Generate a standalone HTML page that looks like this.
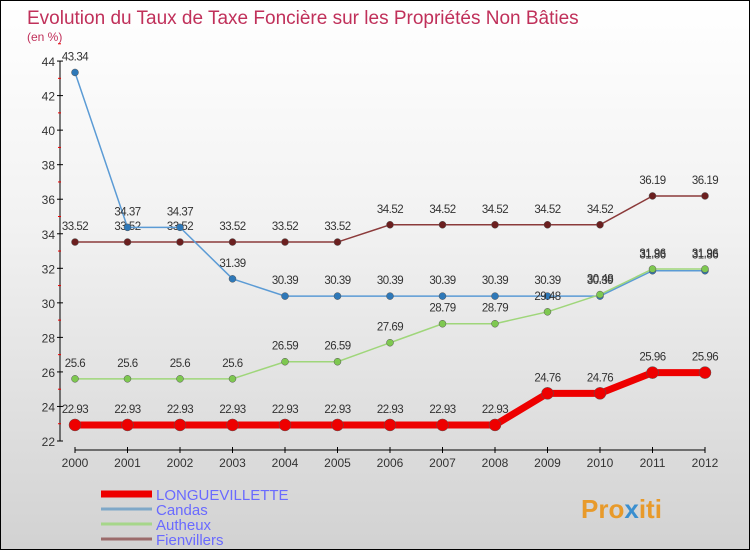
<!DOCTYPE html>
<html><head><meta charset="utf-8"><style>
body{margin:0}
#c{width:748px;height:548px;border:1px solid #000;background:linear-gradient(#fff,#f2f2f2 40%,#d2d2d2);position:relative;font-family:"Liberation Sans",sans-serif;overflow:hidden}
</style></head><body>
<div id="c">
<svg id="s" width="748" height="548" xmlns="http://www.w3.org/2000/svg" style="position:absolute;left:0;top:0">
<text x="26" y="23" font-size="19" fill="#c0305a">Evolution du Taux de Taxe Foncière sur les Propriétés Non Bâties</text>
<text x="26" y="40" font-size="12" fill="#c0305a">(en %)</text>
<g id="g"></g>
<text x="580" y="517" font-size="26" font-weight="bold" fill="#e89a2a">Pro<tspan fill="#3a8fd0">x</tspan>iti</text>
</svg>
</div>
<script>
const years=[2000,2001,2002,2003,2004,2005,2006,2007,2008,2009,2010,2011,2012];
const yTicks=[22,24,26,28,30,32,34,36,38,40,42,44];
const longue=[22.93,22.93,22.93,22.93,22.93,22.93,22.93,22.93,22.93,24.76,24.76,25.96,25.96];
const candas=[43.34,34.37,34.37,31.39,30.39,30.39,30.39,30.39,30.39,30.39,30.39,31.86,31.86];
const autheux=[25.6,25.6,25.6,25.6,26.59,26.59,27.69,28.79,28.79,29.48,30.48,31.96,31.96];
const fienv=[33.52,33.52,33.52,33.52,33.52,33.52,34.52,34.52,34.52,34.52,34.52,36.19,36.19];
const NS="http://www.w3.org/2000/svg",g=document.getElementById('g');
const X=i=>74+i*52.5, Y=v=>440-(v-22)*17.27;
function el(t,a){const e=document.createElementNS(NS,t);for(const k in a)e.setAttribute(k,a[k]);g.appendChild(e);return e;}
let e=el('line',{x1:59,y1:Y(44),x2:59,y2:Y(22),stroke:'#000'});

e=el('line',{x1:X(0),y1:449,x2:X(12),y2:449,stroke:'#000'});

yTicks.forEach(v=>{el('line',{x1:56,x2:62,y1:Y(v),y2:Y(v),stroke:'#000'});el('line',{x1:57,x2:60,y1:Y(v+1),y2:Y(v+1),stroke:'#e00'});
const t=el('text',{x:54,y:Y(v)+5,'text-anchor':'end','font-size':12,fill:'#333'});t.textContent=v;
});
years.forEach((y,i)=>{el('line',{x1:X(i),x2:X(i),y1:446,y2:452,stroke:'#000'});
const t=el('text',{x:X(i),y:466,'text-anchor':'middle','font-size':12,fill:'#333'});t.textContent=y;
});
function series(d,col,w,r,name,fill){
const p=el('polyline',{points:d.map((v,i)=>X(i)+','+Y(v)).join(' '),fill:'none',stroke:col,'stroke-width':w});

d.forEach((v,i)=>{const c=el('circle',{cx:X(i),cy:Y(v),r:r,fill:fill,stroke:'#555','stroke-width':0.5});

const t=el('text',{x:X(i),y:Y(v)-12,'text-anchor':'middle','font-size':11.5,fill:'#333','letter-spacing':'-0.5'});t.textContent=v;
});}
series(fienv,'#8b3a3a',1.5,3.5,'fienvillers','#6b1f1f');
series(candas,'#5b9bd5',1.5,3.5,'candas','#2e78b8');
series(autheux,'#9fd67a',1.5,3.5,'autheux','#7ec850');
series(longue,'#ee0000',7,6,'longuevillette','#ee0000');
const leg=[['LONGUEVILLETTE','#ee0000',7],['Candas','#7fa8c8',3],['Autheux','#a6d68a',3],['Fienvillers','#9b6b6b',3]];
leg.forEach((l,i)=>{const y=493+i*15;
let a=el('line',{x1:100,x2:151,y1:y,y2:y,stroke:l[1],'stroke-width':l[2]});

const t=el('text',{x:155,y:y+6,'font-size':15,fill:'#6a6aff'});t.textContent=l[0];
});
</script>
</body></html>
